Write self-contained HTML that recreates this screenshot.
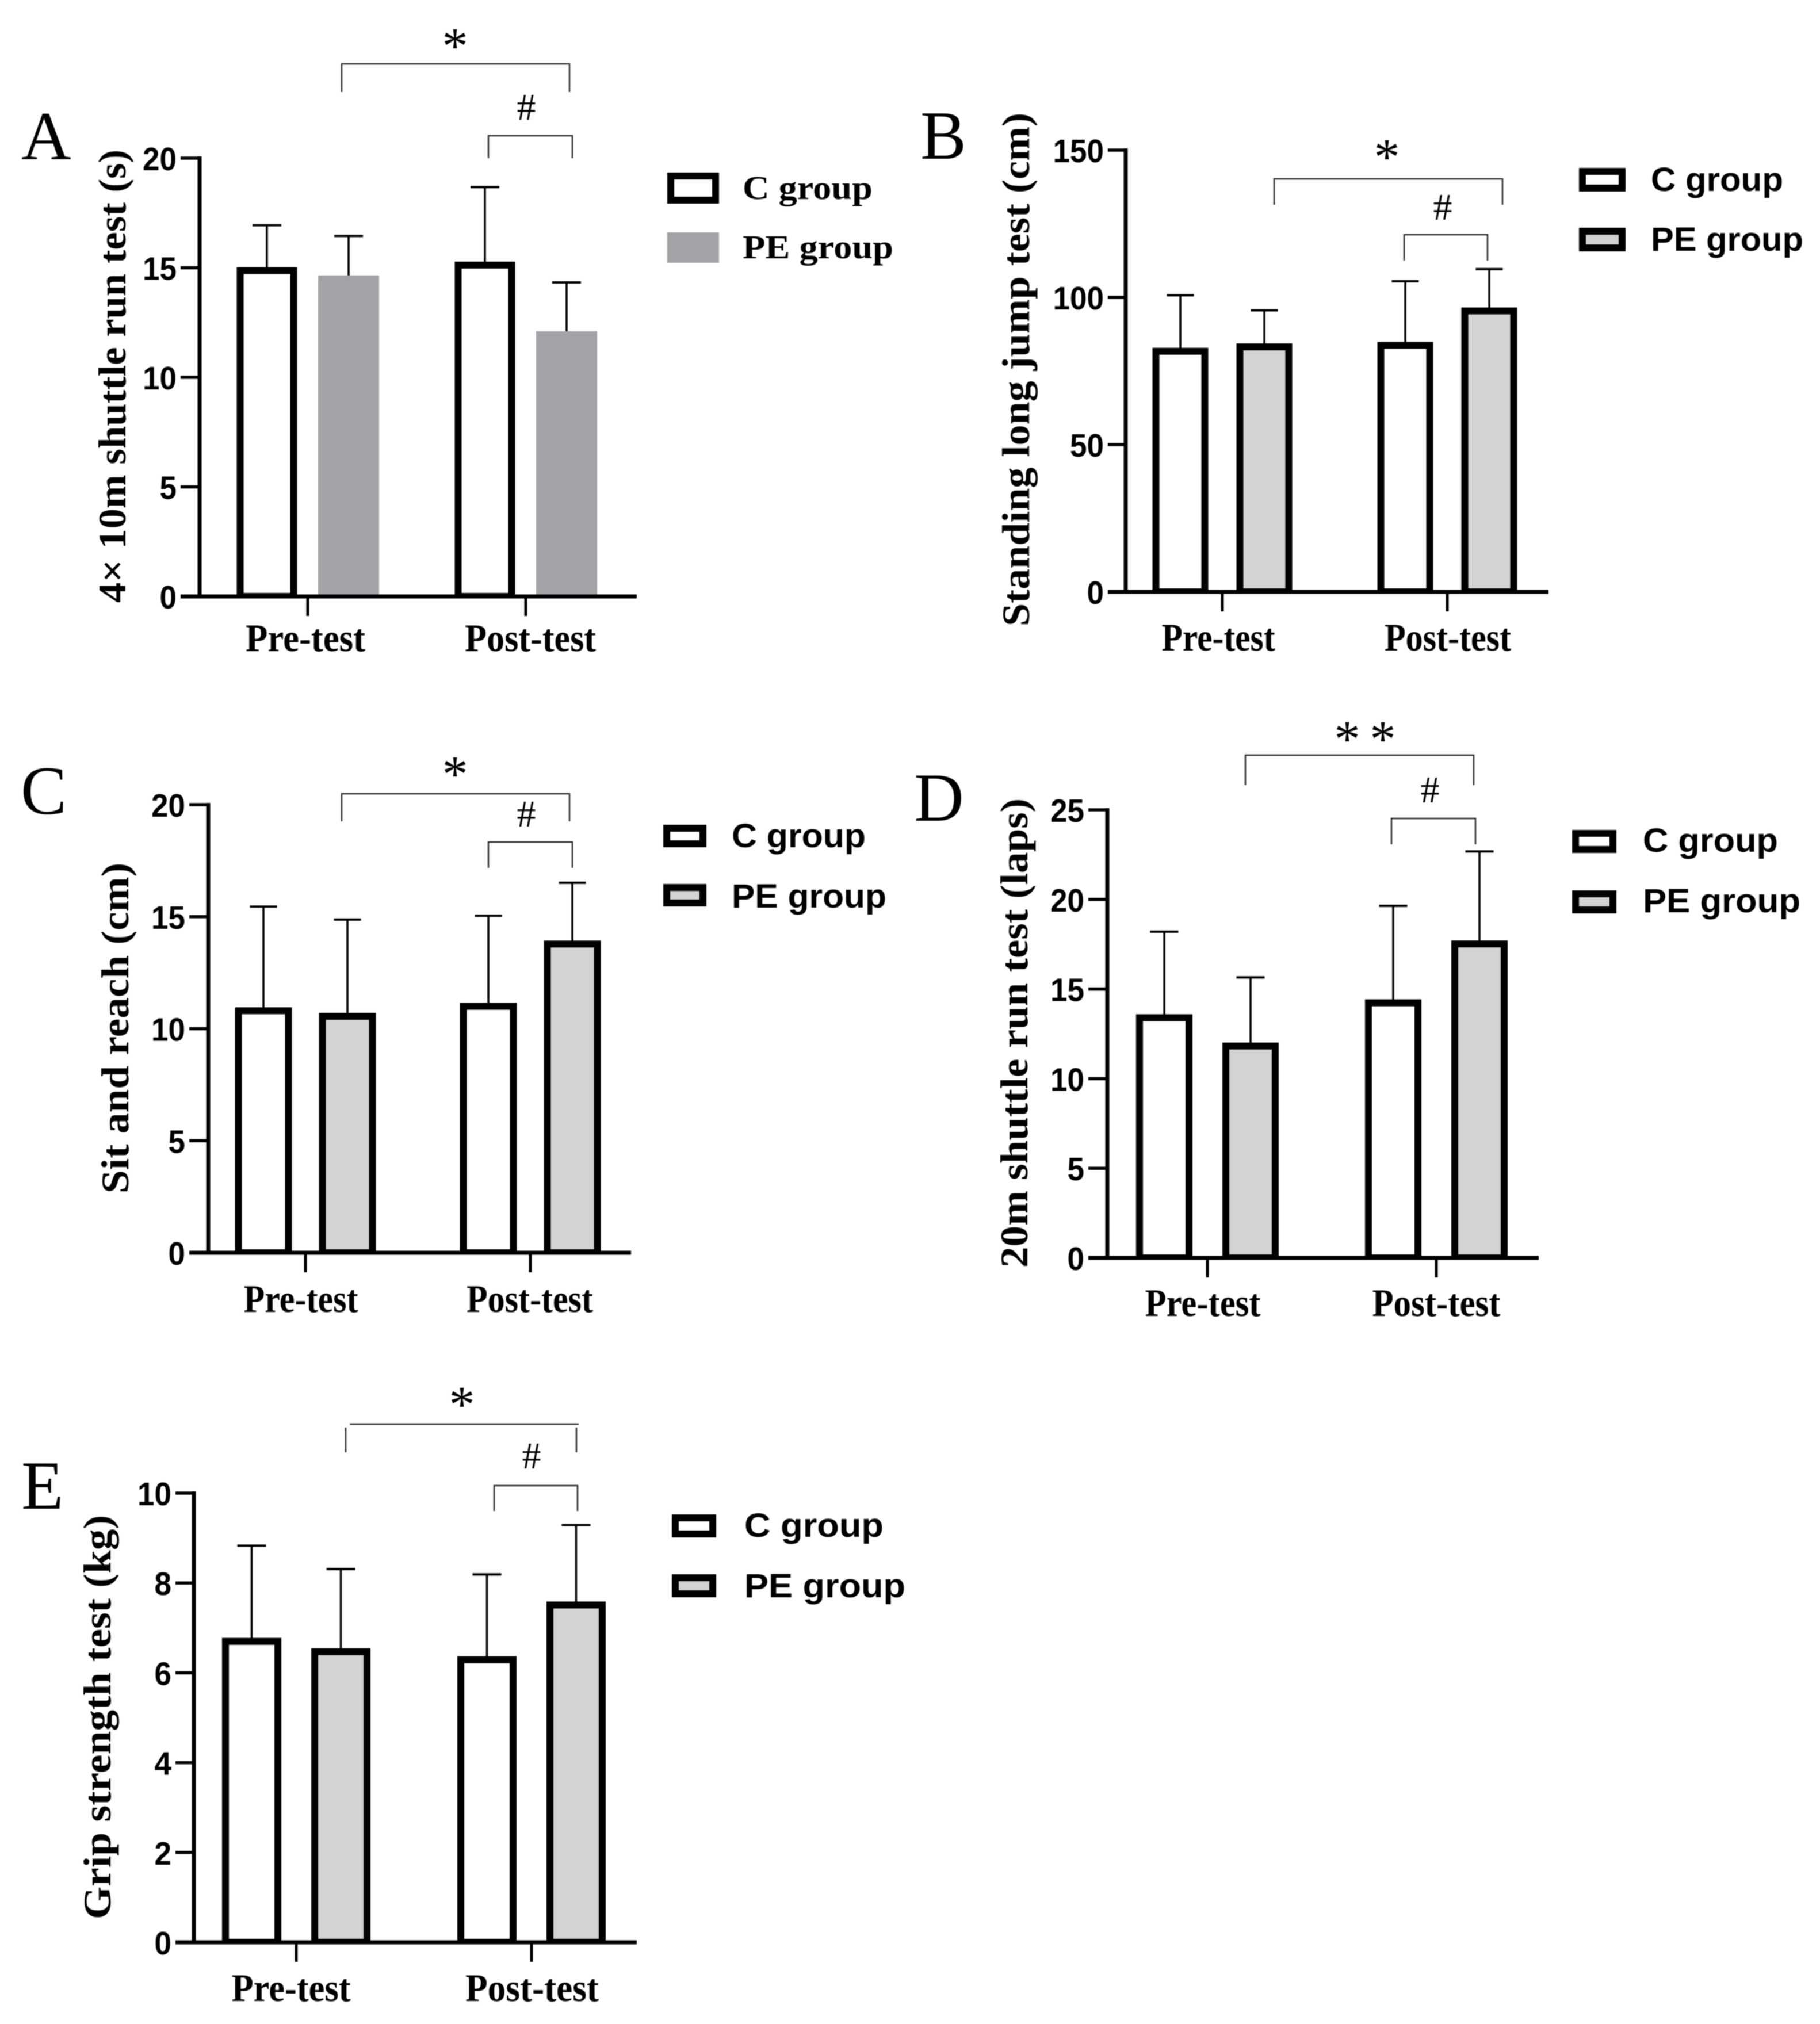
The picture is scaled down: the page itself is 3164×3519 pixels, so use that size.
<!DOCTYPE html>
<html lang="en">
<head>
<meta charset="utf-8">
<title>Physical fitness test results by group</title>
<style>
  html, body { margin: 0; padding: 0; background: #fff; }
  svg { display: block; filter: blur(0.8px); }
  .serif { font-family: "Liberation Serif", serif; font-weight: bold; fill: #000; }
  .sans { font-family: "Liberation Sans", sans-serif; font-weight: bold; fill: #000; }
  .letter { font-family: "Liberation Serif", serif; font-size: 120px; fill: #000; }
  .star { font-family: "Liberation Serif", serif; font-size: 90px; fill: #000; text-anchor: middle; }
  .hash { font-family: "Liberation Serif", serif; font-size: 66px; fill: #000; text-anchor: middle; }
  .title { font-size: 68px; }
  .legend-text { font-size: 58px; }
  .bracket { fill: none; stroke: #2a2a2a; stroke-width: 2.5; }
  .box-c { fill: #fff; stroke: #000; stroke-width: 12; }
  .box-pe { fill: #d3d3d3; stroke: #000; stroke-width: 12; }
</style>
</head>
<body>
<svg id="figure" xmlns="http://www.w3.org/2000/svg" width="3164" height="3519" viewBox="0 0 3164 3519">
  <rect x="0" y="0" width="3164" height="3519" fill="#fff"/>

  <g id="panel-a">
    <text class="letter" x="37" y="277">A</text>
    <text class="serif title" transform="translate(218,1048) rotate(-90)" textLength="788" lengthAdjust="spacingAndGlyphs">4× 10m shuttle run test (s)</text>
    <polyline class="bracket" points="594,160 594,111 990,111 990,160"/>
    <text class="star" x="791" y="110">*</text>
    <polyline class="bracket" points="849,275 849,236 995,236 995,275"/>
    <text class="hash" x="915" y="208">#</text>
    <rect x="1166" y="306" width="78" height="42" fill="#fff" stroke="#000" stroke-width="12"/>
    <text class="serif legend-text" x="1291" y="346" textLength="226" lengthAdjust="spacingAndGlyphs">C group</text>
    <rect x="1160" y="404" width="90" height="53" fill="#a3a2a7"/>
    <text class="serif legend-text" x="1291" y="449" textLength="262" lengthAdjust="spacingAndGlyphs">PE group</text>
  </g>

  <g id="panel-b">
    <text class="letter" x="1600" y="276">B</text>
    <text class="serif title" transform="translate(1789,1089) rotate(-90)" textLength="893" lengthAdjust="spacingAndGlyphs">Standing long jump test (cm)</text>
    <polyline class="bracket" points="2215,356 2215,311 2612,311 2612,356"/>
    <text class="star" x="2411" y="303">*</text>
    <polyline class="bracket" points="2441,453 2441,408 2586,408 2586,453"/>
    <text class="hash" x="2508" y="382">#</text>
    <rect class="box-c" x="2751" y="298" width="69" height="29"/>
    <text class="sans legend-text" x="2870" y="332" textLength="230" lengthAdjust="spacingAndGlyphs">C group</text>
    <rect class="box-pe" x="2751" y="402" width="69" height="29"/>
    <text class="sans legend-text" x="2870" y="436" textLength="265" lengthAdjust="spacingAndGlyphs">PE group</text>
  </g>

  <g id="panel-c">
    <text class="letter" x="36" y="1415">C</text>
    <text class="serif title" transform="translate(223,2075) rotate(-90)" textLength="575" lengthAdjust="spacingAndGlyphs">Sit and reach (cm)</text>
    <polyline class="bracket" points="594,1428 594,1380 990,1380 990,1428"/>
    <text class="star" x="791" y="1376">*</text>
    <polyline class="bracket" points="849,1509 849,1464 995,1464 995,1509"/>
    <text class="hash" x="915" y="1437">#</text>
    <rect class="box-c" x="1159" y="1440" width="63" height="27"/>
    <text class="sans legend-text" x="1272" y="1473" textLength="233" lengthAdjust="spacingAndGlyphs">C group</text>
    <rect class="box-pe" x="1159" y="1543" width="63" height="27"/>
    <text class="sans legend-text" x="1272" y="1578" textLength="269" lengthAdjust="spacingAndGlyphs">PE group</text>
  </g>

  <g id="panel-d">
    <text class="letter" x="1589" y="1427">D</text>
    <text class="serif title" transform="translate(1786,2204) rotate(-90)" textLength="816" lengthAdjust="spacingAndGlyphs">20m shuttle run test (laps)</text>
    <polyline class="bracket" points="2165,1365 2165,1313 2562,1313 2562,1365"/>
    <text class="star" x="2342" y="1315">*</text>
    <text class="star" x="2404" y="1315">*</text>
    <polyline class="bracket" points="2419,1468 2419,1423 2565,1423 2565,1468"/>
    <text class="hash" x="2486" y="1395">#</text>
    <rect class="box-c" x="2739" y="1449" width="65" height="28"/>
    <text class="sans legend-text" x="2856" y="1481" textLength="235" lengthAdjust="spacingAndGlyphs">C group</text>
    <rect class="box-pe" x="2739" y="1554" width="65" height="28"/>
    <text class="sans legend-text" x="2856" y="1586" textLength="274" lengthAdjust="spacingAndGlyphs">PE group</text>
  </g>

  <g id="panel-e">
    <text class="letter" x="37" y="2623">E</text>
    <text class="serif title" transform="translate(192,3337) rotate(-90)" textLength="703" lengthAdjust="spacingAndGlyphs">Grip strength test (kg)</text>
    <polyline class="bracket" points="601,2525 601,2482"/>
    <polyline class="bracket" points="608,2476 1006,2476"/>
    <polyline class="bracket" points="1002,2525 1002,2482"/>
    <text class="star" x="803" y="2472">*</text>
    <polyline class="bracket" points="859,2627 859,2583 1004,2583 1004,2627"/>
    <text class="hash" x="924" y="2553">#</text>
    <rect class="box-c" x="1174" y="2639" width="65" height="28"/>
    <text class="sans legend-text" x="1294" y="2672" textLength="242" lengthAdjust="spacingAndGlyphs">C group</text>
    <rect class="box-pe" x="1174" y="2743" width="65" height="28"/>
    <text class="sans legend-text" x="1294" y="2777" textLength="280" lengthAdjust="spacingAndGlyphs">PE group</text>
  </g>
</svg>

<script>
// ---- Data: [Pre-test, Post-test] ----
const categories = ['Pre-test', 'Post-test'];

const aTicks = [0, 5, 10, 15, 20];
const aCMeans = [14.87, 15.12];
const aPEMeans = [14.65, 12.1];
const aCErrorTops = [16.94, 18.68];
const aPEErrorTops = [16.45, 14.33];

const bTicks = [0, 50, 100, 150];
const bCMeans = [81.7, 83.7];
const bPEMeans = [83.2, 95.4];
const bCErrorTops = [100.7, 105.5];
const bPEErrorTops = [95.6, 109.6];

const cTicks = [0, 5, 10, 15, 20];
const cCMeans = [10.8, 11.0];
const cPEMeans = [10.55, 13.78];
const cCErrorTops = [15.45, 15.04];
const cPEErrorTops = [14.87, 16.51];

const dTicks = [0, 5, 10, 15, 20, 25];
const dCMeans = [13.4, 14.23];
const dPEMeans = [11.82, 17.52];
const dCErrorTops = [18.2, 19.64];
const dPEErrorTops = [15.65, 22.68];

const eTicks = [0, 2, 4, 6, 8, 10];
const eCMeans = [6.7, 6.29];
const ePEMeans = [6.47, 7.51];
const eCErrorTops = [8.83, 8.19];
const ePEErrorTops = [8.31, 9.29];

const SVG_NS = 'http://www.w3.org/2000/svg';

function make(tag, attrs, parent) {
  const el = document.createElementNS(SVG_NS, tag);
  for (const k in attrs) el.setAttribute(k, attrs[k]);
  parent.appendChild(el);
  return el;
}

function drawPanel(key, cfg, ticks, cMeans, peMeans, cTops, peTops) {
  const root = document.getElementById('panel-' + key);
  const yMax = ticks[ticks.length - 1];
  const yScale = v => cfg.y0 - (v / yMax) * (cfg.y0 - cfg.yTop);

  function drawBar(series, i, value, errTop) {
    const isPE = series === 'pe';
    const cx = cfg.groupX[i] + (isPE ? cfg.offset : -cfg.offset);
    const top = yScale(value);
    const solid = isPE && cfg.peSolid;
    const w = solid ? cfg.barW + 13 : cfg.barW;
    const sw = solid ? 0 : 12;
    const bar = make('rect', {
      x: cx - w / 2, y: top, width: w, height: cfg.y0 - top,
      fill: isPE ? cfg.peFill : '#fff',
      stroke: sw ? '#000' : 'none', 'stroke-width': sw
    }, root);
    
    

    const stem = make('line', {
      x1: cx, x2: cx, y1: top, y2: yScale(errTop), stroke: '#000', 'stroke-width': 3.5
    }, root);
    
    

    const cap = make('line', {
      x1: cx - cfg.capW / 2, x2: cx + cfg.capW / 2, y1: yScale(errTop), y2: yScale(errTop),
      stroke: '#000', 'stroke-width': 4
    }, root);
    
    
  }

  categories.forEach((cat, i) => {
    drawBar('c', i, cMeans[i], cTops[i]);
    drawBar('pe', i, peMeans[i], peTops[i]);
  });

  const mask = make('rect', {
    x: cfg.xStart, y: cfg.y0 + 3, width: cfg.xEnd - cfg.xStart, height: 6, fill: '#fff'
  }, root);
  
  

  const yAxis = make('line', {
    x1: cfg.axisX, x2: cfg.axisX, y1: yScale(yMax) - 3, y2: cfg.y0 + 3, stroke: '#000', 'stroke-width': 7
  }, root);
  
  

  const xAxis = make('line', {
    x1: cfg.xStart, x2: cfg.xEnd, y1: cfg.y0, y2: cfg.y0, stroke: '#000', 'stroke-width': 7
  }, root);
  
  

  ticks.forEach(t => {
    const y = yScale(t);
    const tick = make('line', {
      x1: cfg.xStart, x2: cfg.axisX, y1: y, y2: y, stroke: '#000', 'stroke-width': 5.5
    }, root);
    
    

    const text = String(t);
    const label = make('text', {
      x: cfg.xStart - 7, y: y + 21, 'text-anchor': 'end', 'class': 'sans', 'font-size': 57,
      textLength: text.length * 29.5, lengthAdjust: 'spacingAndGlyphs'
    }, root);
    label.textContent = text;
    
    
  });

  categories.forEach((cat, i) => {
    const tick = make('line', {
      x1: cfg.groupX[i], x2: cfg.groupX[i], y1: cfg.y0, y2: cfg.y0 + 34, stroke: '#000', 'stroke-width': 5
    }, root);
    
    

    const label = make('text', {
      x: cfg.labelX[i], y: cfg.labelY + 2, 'text-anchor': 'middle', 'class': 'serif', 'font-size': 68,
      textLength: cfg.labelLen[i], lengthAdjust: 'spacingAndGlyphs'
    }, root);
    label.textContent = cat;
    
    
  });
}

drawPanel('a', {
  axisX: 347, y0: 1037, yTop: 275, xStart: 314, xEnd: 1107,
  groupX: [535, 914], offset: 71, barW: 93, capW: 50, peFill: '#a3a2a7', peSolid: true,
  labelX: [531, 922], labelLen: [208, 228], labelY: 1130
}, aTicks, aCMeans, aPEMeans, aCErrorTops, aPEErrorTops);

drawPanel('b', {
  axisX: 1957, y0: 1029, yTop: 261, xStart: 1926, xEnd: 2692,
  groupX: [2125, 2516], offset: 73, barW: 85, capW: 47, peFill: '#d3d3d3', peSolid: false,
  labelX: [2118, 2517], labelLen: [197, 220], labelY: 1129
}, bTicks, bCMeans, bPEMeans, bCErrorTops, bPEErrorTops);

drawPanel('c', {
  axisX: 362, y0: 2178, yTop: 1399, xStart: 329, xEnd: 1097,
  groupX: [531, 922], offset: 73, barW: 87, capW: 47, peFill: '#d3d3d3', peSolid: false,
  labelX: [523, 921], labelLen: [199, 220], labelY: 2279
}, cTicks, cCMeans, cPEMeans, cCErrorTops, cPEErrorTops);

drawPanel('d', {
  axisX: 1925, y0: 2187, yTop: 1408, xStart: 1892, xEnd: 2675,
  groupX: [2099, 2497], offset: 75, barW: 86, capW: 49, peFill: '#d3d3d3', peSolid: false,
  labelX: [2091, 2497], labelLen: [201, 223], labelY: 2286
}, dTicks, dCMeans, dPEMeans, dCErrorTops, dPEErrorTops);

drawPanel('e', {
  axisX: 337, y0: 3377, yTop: 2596, xStart: 305, xEnd: 1107,
  groupX: [515, 924], offset: 77.5, barW: 91, capW: 50, peFill: '#d3d3d3', peSolid: false,
  labelX: [506, 925], labelLen: [207, 232], labelY: 3477
}, eTicks, eCMeans, ePEMeans, eCErrorTops, ePEErrorTops);
</script>
</body>
</html>
